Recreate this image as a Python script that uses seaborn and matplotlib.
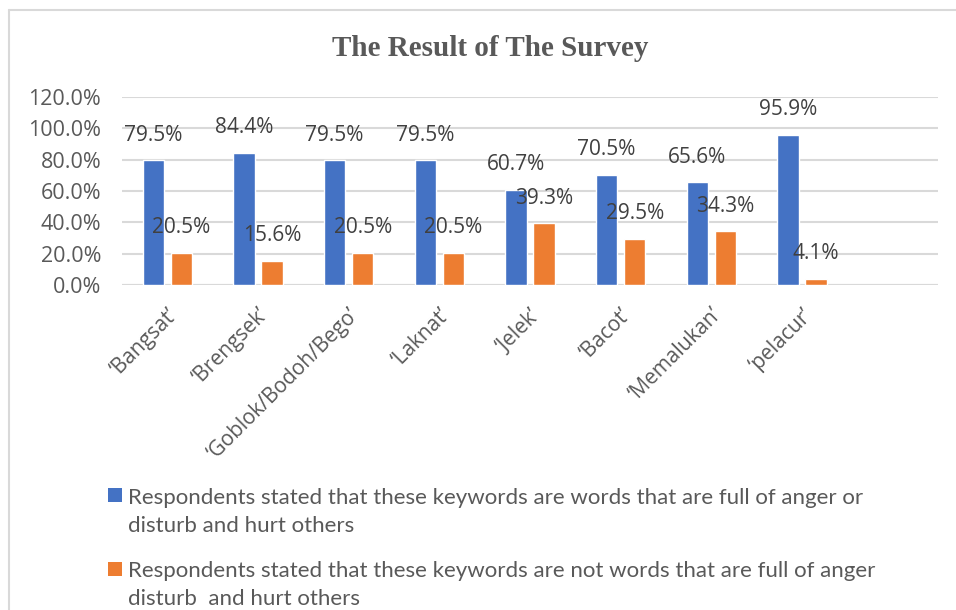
import matplotlib
matplotlib.use("Agg")
import matplotlib.pyplot as plt
import seaborn as sns
import pandas as pd
from matplotlib.patches import Rectangle
from matplotlib.lines import Line2D

categories = ["‘Bangsat’", "‘Brengsek’", "‘Goblok/Bodoh/Bego’", "‘Laknat’",
              "‘Jelek’", "‘Bacot’", "‘Memalukan’", "‘pelacur’"]
angry = [0.795, 0.844, 0.795, 0.795, 0.607, 0.705, 0.656, 0.959]
not_angry = [0.205, 0.156, 0.205, 0.205, 0.393, 0.295, 0.343, 0.041]
series = ["Respondents stated that these keywords are words that are full of anger or\ndisturb and hurt others",
          "Respondents stated that these keywords are not words that are full of anger\ndisturb  and hurt others"]
yticks = [0.0, 0.2, 0.4, 0.6, 0.8, 1.0, 1.2]
colors = ["#4472C4", "#ED7D31"]

df = pd.DataFrame({
    "cat": categories * 2,
    "val": angry + not_angry,
    "series": [series[0]] * len(categories) + [series[1]] * len(categories),
})

sns.set_theme(style="white")
plt.rcParams["font.family"] = ["Open Sans", "DejaVu Sans"]

W, H = 956, 610
fig = plt.figure(figsize=(W/100, H/100), dpi=100)
ax = fig.add_axes([122/W, 1-285/H, (938-122)/W, (285-97)/H])

sns.barplot(data=df, x="cat", y="val", hue="series", order=categories,
            hue_order=series, palette=colors, width=0.62, gap=0.24,
            saturation=1, legend=False, ax=ax)

ax.set_xlim(-0.5, 8.5)
ax.set_ylim(0, 1.2)
ax.set_yticks(yticks)
ax.set_yticklabels([f"{t*100:.1f}%" for t in yticks], fontsize=15.5, color="#595959")
ax.yaxis.grid(True, color="#D9D9D9", linewidth=1.5)
ax.set_axisbelow(True)
for s in ax.spines.values():
    s.set_visible(False)
ax.axhline(0, color="#D9D9D9", linewidth=1.5, zorder=0.5)
ax.set_xticks(range(len(categories)))
ax.set_xticklabels(categories, rotation=45, ha="right", rotation_mode="anchor",
                   fontsize=15, color="#595959")
ax.tick_params(axis="y", length=0, pad=15)
ax.tick_params(axis="x", length=0, pad=14)
ax.set_xlabel("")
ax.set_ylabel("")

for cont in ax.containers:
    for bar in cont:
        h = bar.get_height()
        ax.annotate(f"{h*100:.1f}%", (bar.get_x() + bar.get_width()/2, h),
                    xytext=(0, 18), textcoords="offset points",
                    ha="center", va="center", fontsize=15, color="#404040")

fig.text(490/W, 1-48/H, "The Result of The Survey", ha="center", va="center",
         fontsize=21, fontweight="bold", color="#595959", family="Liberation Serif")

# legend (square aligned with first line of each wrapped label)
leg_sq_top = [488, 562]
leg_last_base = [532, 605]
for lab, c, sq, bl in zip(series, colors, leg_sq_top, leg_last_base):
    fig.add_artist(Rectangle((108/W, 1-(sq+14)/H), 14/W, 14/H,
                             facecolor=c, edgecolor="none", transform=fig.transFigure))
    fig.text(128/W, 1-bl/H, lab, ha="left", va="baseline", fontsize=16,
             color="#595959", family=["Lato", "DejaVu Sans"], linespacing=1.5)

fig.add_artist(Line2D([9/W, 9/W], [0, 1-10/H], color="#D9D9D9", linewidth=1.5))
fig.add_artist(Line2D([9/W, 1], [1-10/H, 1-10/H], color="#D9D9D9", linewidth=1.5))

fig.savefig("out.png", dpi=100)
